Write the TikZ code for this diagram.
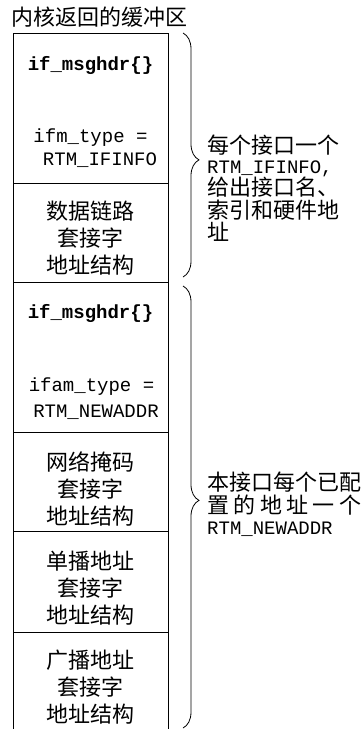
\documentclass[tikz,border=0pt]{standalone}
\usepackage{fontspec}
\setmonofont{Liberation Mono}
\newfontfamily\cjkfont{Noto Sans CJK SC}
\usetikzlibrary{positioning,decorations.pathreplacing}

\tikzset{
  cell/.style={draw, line width=0.9pt, minimum width=155pt, inner sep=0pt, outer sep=0pt, anchor=north},
  zhtext/.style={font=\cjkfont\fontsize{22}{27}\selectfont, align=center, inner sep=0pt},
  zhlabel/.style={zhtext, text height=17pt, text depth=3pt, anchor=base west},
  codetext/.style={font=\ttfamily\fontsize{19}{23}\selectfont, inner sep=0pt},
  codebold/.style={font=\ttfamily\bfseries\fontsize{19}{23}\selectfont, inner sep=0pt},
  codelabel/.style={codetext, text height=12pt, text depth=3pt, anchor=base west},
  sidebrace/.style={decorate, decoration={brace, amplitude=16pt}, line width=0.8pt},
}

\begin{document}
\begin{tikzpicture}[x=1pt, y=-1pt]
		\useasboundingbox (0,0) rectangle (364,729);
		
		% Title
		\node[zhtext, anchor=base west] (title) at (11,25) {内核返回的缓冲区};
		
		% Buffer cells
		\node[cell, minimum height=150pt] (ifhdr) at (90.5,33) {};
		\node[cell, minimum height=99pt, below=0pt of ifhdr] (dlsock) {};
		\node[cell, minimum height=150pt, below=0pt of dlsock] (ifamhdr) {};
		\node[cell, minimum height=99pt, below=0pt of ifamhdr] (masksock) {};
		\node[cell, minimum height=101pt, below=0pt of masksock] (ucastsock) {};
		\node[cell, minimum height=99pt, below=0pt of ucastsock] (bcastsock) {};
		
		% Interface message
		\node[codebold] (ifhdrname) at (90.5,65) {if\_msghdr\{\}};
		\node[codetext] (ifmtype) at (90.5,138) {ifm\_type =};
		\node[codetext] (ifmval) at (100,160) {RTM\_IFINFO};
		\node[zhtext] (dltext) at ([yshift=-6pt]dlsock.center) {数据链路\\套接字\\地址结构};
		
		% Address message
		\node[codebold] (ifamname) at (90.5,313) {if\_msghdr\{\}};
		\node[codetext] (ifamtype) at (91.5,387) {ifam\_type =};
		\node[codetext] (ifamval) at (96,412) {RTM\_NEWADDR};
		\node[zhtext] (masktext) at ([yshift=-7pt]masksock.center) {网络掩码\\套接字\\地址结构};
		\node[zhtext] (ucasttext) at ([yshift=-7pt]ucastsock.center) {单播地址\\套接字\\地址结构};
		\node[zhtext] (bcasttext) at ([yshift=-6pt]bcastsock.center) {广播地址\\套接字\\地址结构};
		
		% Braces
		\coordinate (ifinfotop) at (183,33);
		\coordinate (ifinfobot) at (183,277);
		\coordinate (addrtop) at (183,286);
		\coordinate (addrbot) at (183,728);
		\draw[sidebrace, decoration={aspect=0.52}] (ifinfotop) -- (ifinfobot);
		\draw[sidebrace, decoration={aspect=0.485}] (addrtop) -- (addrbot);
		
		% Brace labels
		\node[zhlabel] (ifinfo1) at (207,153) {每个接口一个};
		\node[codelabel] (ifinfo2) at (207,173) {RTM\_IFINFO,};
		\node[zhlabel] (ifinfo3) at (207,195) {给出接口名、};
		\node[zhlabel] (ifinfo4) at (207,218) {索引和硬件地};
		\node[zhlabel] (ifinfo5) at (207,240) {址};
		\node[zhlabel] (addr1) at (207,490) {本接口每个已配};
		\node[zhlabel] (addr2) at (207,513) {\hbox to 154pt{置\hfil 的\hfil 地\hfil 址\hfil 一\hfil 个}};
		\node[codelabel] (addr3) at (207,534) {RTM\_NEWADDR};
	\end{tikzpicture}
\end{document}
